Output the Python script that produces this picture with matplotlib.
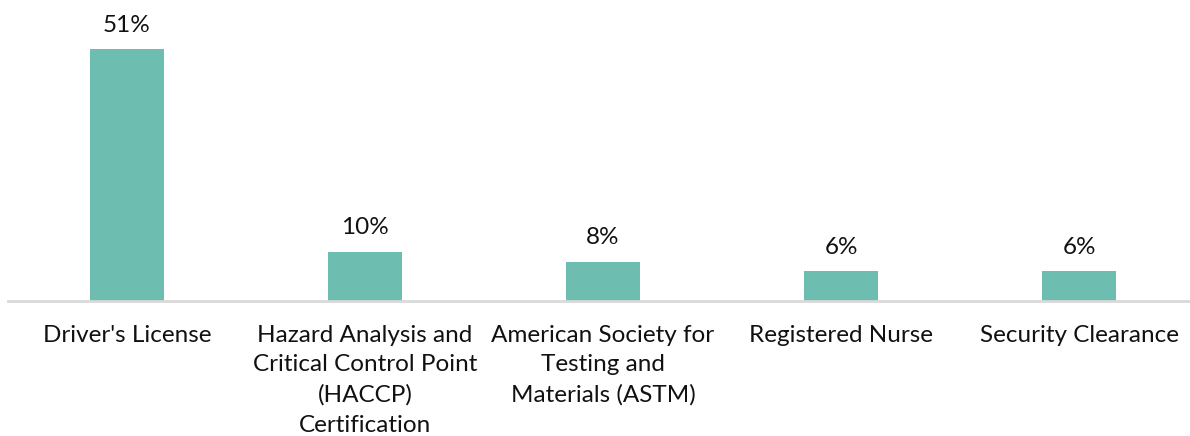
import matplotlib.pyplot as plt

# certification share of postings
categories = ["Driver's License",
              "Hazard Analysis and\nCritical Control Point\n(HACCP)\nCertification",
              "American Society for\nTesting and\nMaterials (ASTM)",
              "Registered Nurse",
              "Security Clearance"]
values = [51, 10, 8, 6, 6]
value_labels = ["51%", "10%", "8%", "6%", "6%"]

plt.rcParams['font.family'] = ['Lato', 'DejaVu Sans']

fig = plt.figure(figsize=(11.9, 4.36), dpi=100)
ax = fig.add_axes([8/1190, 1 - 301/436, 1190/1190, 296/436])

x = range(len(values))
bars = ax.bar(x, values, width=0.31, color="#6dbdb0", zorder=2)
for b, lab in zip(bars, value_labels):
    ax.annotate(lab, (b.get_x() + b.get_width()/2, b.get_height()),
                xytext=(0, 10), textcoords="offset points",
                ha="center", va="bottom", fontsize=17.5, color="#111111")

ax.set_xlim(-0.5, 4.5)
ax.set_ylim(0, 60)
ax.set_xticks(list(x))
ax.set_xticklabels(categories, fontsize=17.5, color="#111111", linespacing=1.52)
ax.tick_params(axis="x", length=0, pad=17)
ax.set_yticks([])
for s in ["top", "right", "left"]:
    ax.spines[s].set_visible(False)
ax.spines["bottom"].set_color("#d9d9d9")
ax.spines["bottom"].set_linewidth(2)

fig.savefig("out.png", dpi=100)
